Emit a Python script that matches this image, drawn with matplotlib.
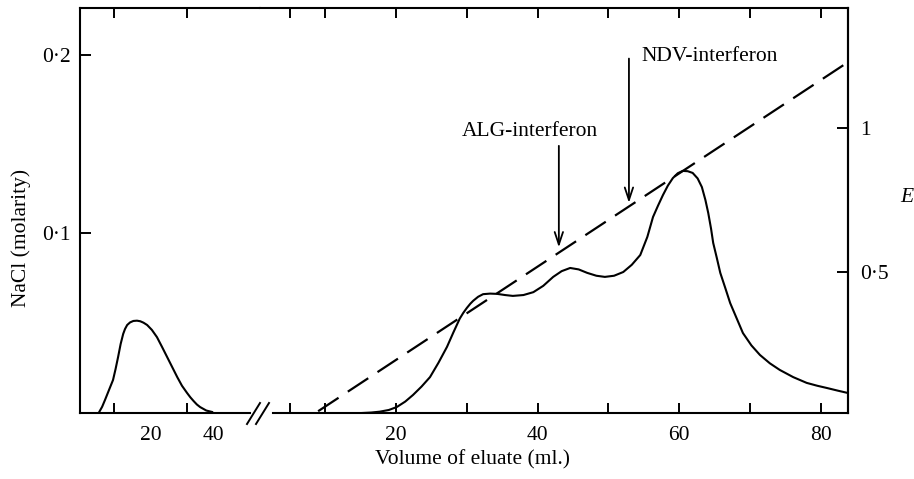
import matplotlib.pyplot as plt
from matplotlib.lines import Line2D

plt.rcParams['font.family'] = ['Liberation Serif', 'DejaVu Serif']
fs = 15.5

# extinction E, first (breakthrough) segment of the eluate
left_ml = [5.9, 6.7, 7.5, 8.2, 8.9, 9.7, 10.4, 11.1, 11.8, 12.5, 13.0, 13.6, 14.4, 15.3,
           16.3, 17.2, 18.1, 19.1, 20.4, 21.8, 23.2, 24.6, 26.0, 27.4, 28.7, 30.1, 31.0,
           31.9, 32.8, 33.7, 35.4, 37.0]
left_E = [0.014, 0.032, 0.056, 0.078, 0.100, 0.125, 0.163, 0.205, 0.25, 0.285, 0.302,
          0.316, 0.325, 0.330, 0.331, 0.329, 0.324, 0.316, 0.299, 0.274, 0.24, 0.205, 0.17,
          0.135, 0.105, 0.08, 0.065, 0.052, 0.040, 0.031, 0.019, 0.014]

# extinction E, gradient segment
right_ml = [14.9, 16.5, 17.7, 19.0, 20.1, 21.3, 22.4, 23.6, 24.8, 26.0, 27.2, 28.1, 29.0,
            29.5, 30.0, 30.5, 30.9, 31.6, 32.3, 33.3, 34.3, 35.4, 36.5, 38.0, 39.4, 40.8,
            42.2, 43.4, 44.6, 45.8, 47.0, 48.3, 49.5, 50.8, 52.1, 53.3, 54.5, 55.5, 56.3,
            57.0, 57.7, 58.4, 59.1, 59.8, 60.5, 61.2, 61.9, 62.6, 63.2, 63.7, 64.1, 64.5,
            64.8, 65.3, 65.8, 66.5, 67.2, 68.1, 69.0, 70.2, 71.4, 72.8, 74.2, 76.1, 78.0,
            79.5, 80.9, 82.4, 83.8]
right_E = [0.010, 0.012, 0.015, 0.021, 0.031, 0.05, 0.073, 0.102, 0.135, 0.185, 0.24, 0.29,
           0.338, 0.358, 0.375, 0.390, 0.40, 0.414, 0.423, 0.425, 0.424, 0.420, 0.417, 0.42,
           0.43, 0.452, 0.483, 0.503, 0.514, 0.509, 0.497, 0.487, 0.483, 0.487, 0.5, 0.525,
           0.559, 0.622, 0.691, 0.73, 0.767, 0.80, 0.826, 0.843, 0.851, 0.850, 0.844, 0.825,
           0.795, 0.75, 0.705, 0.65, 0.601, 0.55, 0.497, 0.445, 0.392, 0.34, 0.288, 0.245,
           0.212, 0.183, 0.16, 0.135, 0.115, 0.105, 0.097, 0.088, 0.08]

# NaCl gradient (dashed)
nacl_ml = [9.0, 83.84]
nacl_M = [0.0, 0.196]

# arrows: (ml, NaCl at tail, NaCl at tip)
alg_arrow = (43.0, 0.149, 0.092)
ndv_arrow = (52.9, 0.198, 0.117)

fig = plt.figure(figsize=(9.14, 4.79), dpi=100)
L, R = 80 / 914, 848 / 914
B, T = 1 - 413 / 479, 1 - 8 / 479
brk = 260 / 914

axL = fig.add_axes([L, B, brk - L, T - B])
axR = fig.add_axes([brk, B, R - brk, T - B], sharey=axL)
axE = axR.twinx()
axLE = axL.twinx()

lw_sp = 1.5
for ax in (axL, axR, axE, axLE):
    for s in ax.spines.values():
        s.set_linewidth(lw_sp)
axL.spines['right'].set_visible(False)
axR.spines['left'].set_visible(False)
for k in ('left', 'top', 'bottom'):
    axE.spines[k].set_visible(False)
for s in axLE.spines.values():
    s.set_visible(False)
axLE.yaxis.set_visible(False)

axL.set_xlim(0.6, 50.2)
axR.set_xlim(0.79, 83.84)
axL.set_ylim(-0.001, 0.2264)
axE.set_ylim(0.0104, 1.4167)
axLE.set_ylim(0.0104, 1.4167)
axL.spines['bottom'].set_bounds(0.6, 47.5)
axR.spines['bottom'].set_bounds(2.6, 83.84)

# left y axis (NaCl)
axL.set_yticks([0.1, 0.2], ['0·1', '0·2'], fontsize=fs)
axL.tick_params(axis='y', direction='in', length=8, width=1.4, pad=7)
axR.tick_params(axis='y', left=False, labelleft=False)

# x ticks
axL.set_xticks([20, 37.3], ['20', '40'], fontsize=fs)
axL.set_xticks([10, 20, 30], minor=True)
axR.set_xticks([20, 40, 60, 80], ['20', '40', '60', '80'], fontsize=fs)
axR.set_xticks([5, 10, 30, 50, 70], minor=True)
axL.tick_params(axis='x', which='major', length=0, pad=9)
axR.tick_params(axis='x', which='major', direction='in', length=7, width=1.4,
                top=True, pad=9)
for ax in (axL, axR):
    ax.tick_params(axis='x', which='minor', direction='in', length=7, width=1.4, top=True)

# right y axis (E)
axE.set_yticks([0.5, 1], ['0·5', '1'], fontsize=fs)
axE.tick_params(axis='y', direction='in', length=8, width=1.4, pad=9)

axLE.plot(left_ml, left_E, color='black', lw=1.5, solid_joinstyle='round')
axE.plot(right_ml, right_E, color='black', lw=1.5, solid_joinstyle='round')
axR.plot(nacl_ml, nacl_M, color='black', lw=1.6, dashes=(11, 5))

for x, y0, y1 in (alg_arrow, ndv_arrow):
    axR.annotate('', xy=(x, y1), xytext=(x, y0),
                 arrowprops=dict(arrowstyle='->,head_length=0.6,head_width=0.2',
                                 lw=1.3, color='black', shrinkA=0, shrinkB=0,
                                 mutation_scale=15))
axR.text(38.9, 0.157, 'ALG-interferon', fontsize=fs, ha='center', va='center')
axR.text(54.7, 0.199, 'NDV-interferon', fontsize=fs, ha='left', va='center')

# axis break marks
for x0 in (247, 256):
    fig.add_artist(Line2D([x0 / 914, (x0 + 13) / 914], [1 - 424 / 479, 1 - 403 / 479],
                          transform=fig.transFigure, color='black', lw=1.4))

fig.text(21 / 914, 1 - 238 / 479, 'NaCl (molarity)', rotation=90, fontsize=fs,
         ha='center', va='center')
fig.text(473 / 914, 1 - 460 / 479, 'Volume of eluate (ml.)', fontsize=fs,
         ha='center', va='center')
fig.text(907 / 914, 1 - 197 / 479, 'E', fontsize=fs, fontstyle='italic',
         ha='center', va='center')

fig.savefig('out.png', dpi=100)
